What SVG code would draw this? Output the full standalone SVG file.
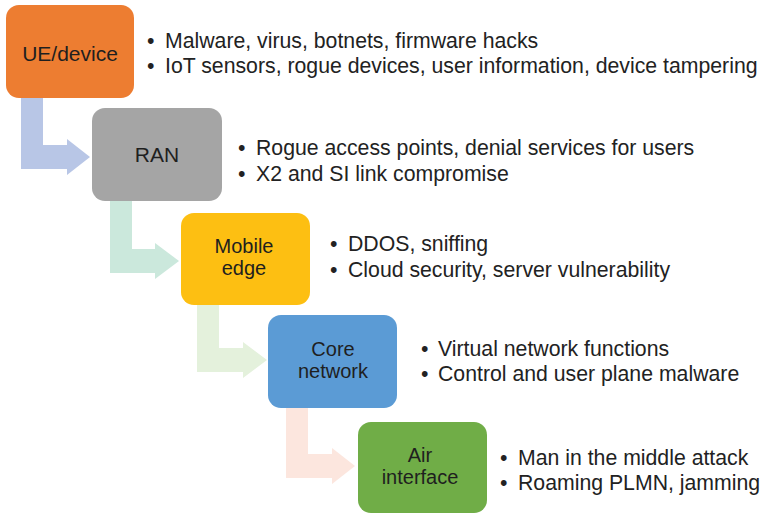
<svg xmlns="http://www.w3.org/2000/svg" width="761" height="515" viewBox="0 0 761 515">
  <style>
    .box { stroke: none; }
    .label { font-family: "Liberation Sans", Arial, sans-serif; font-size: 21px; fill: #1f1f1f; text-anchor: middle; }
    .label2 { font-family: "Liberation Sans", Arial, sans-serif; font-size: 20px; fill: #1f1f1f; text-anchor: middle; }
    .item { font-family: "Liberation Sans", Arial, sans-serif; font-size: 21.25px; fill: #222222; }
  </style>
  <rect width="761" height="515" fill="#ffffff"/>

  <!-- bent arrows between stages -->
  <g id="connectors">
    <path d="M21,98 H43 V145 H67 V139 L90,157 L67,175 V169 H21 Z" fill="#b8c6e6"/>
    <path d="M110,201 H132 V249 H155 V243 L179,261 L155,279 V273 H110 Z" fill="#cbe8dc"/>
    <path d="M197,305 H219 V348 H243 V342 L267,360 L243,378 V372 H197 Z" fill="#e4f1dc"/>
    <path d="M286,408 H308 V454 H332 V448 L355,466 L332,484 V478 H286 Z" fill="#fce6de"/>
  </g>

  <g id="ue-device">
    <rect class="box" x="6" y="5" width="128" height="93" rx="13" fill="#ed7d31"/>
    <text class="label" x="70" y="61">UE/device</text>
    <text class="item" x="147" y="48">•</text>
    <text class="item" x="165" y="48">Malware, virus, botnets, firmware hacks</text>
    <text class="item" x="147" y="73">•</text>
    <text class="item" x="165" y="73">IoT sensors, rogue devices, user information, device tampering</text>
  </g>

  <g id="ran">
    <rect class="box" x="92" y="108" width="130" height="93" rx="13" fill="#a5a5a5"/>
    <text class="label" x="157" y="162">RAN</text>
    <text class="item" x="238" y="155">•</text>
    <text class="item" x="256" y="155">Rogue access points, denial services for users</text>
    <text class="item" x="238" y="181">•</text>
    <text class="item" x="256" y="181">X2 and SI link compromise</text>
  </g>

  <g id="mobile-edge">
    <rect class="box" x="181" y="213" width="129" height="92" rx="13" fill="#fdbf12"/>
    <text class="label2" x="244" y="253">Mobile</text>
    <text class="label2" x="244" y="275">edge</text>
    <text class="item" x="330" y="251">•</text>
    <text class="item" x="348" y="251">DDOS, sniffing</text>
    <text class="item" x="330" y="277">•</text>
    <text class="item" x="348" y="277">Cloud security, server vulnerability</text>
  </g>

  <g id="core-network">
    <rect class="box" x="268" y="315" width="129" height="93" rx="13" fill="#5b9bd5"/>
    <text class="label2" x="333" y="356">Core</text>
    <text class="label2" x="333" y="378">network</text>
    <text class="item" x="421" y="356">•</text>
    <text class="item" x="438" y="356">Virtual network functions</text>
    <text class="item" x="421" y="381">•</text>
    <text class="item" x="438" y="381">Control and user plane malware</text>
  </g>

  <g id="air-interface">
    <rect class="box" x="358" y="422" width="129" height="91" rx="13" fill="#70ad47"/>
    <text class="label2" x="420" y="462">Air</text>
    <text class="label2" x="420" y="484">interface</text>
    <text class="item" x="500" y="465">•</text>
    <text class="item" x="518" y="465">Man in the middle attack</text>
    <text class="item" x="500" y="490">•</text>
    <text class="item" x="518" y="490">Roaming PLMN, jamming</text>
  </g>
</svg>
